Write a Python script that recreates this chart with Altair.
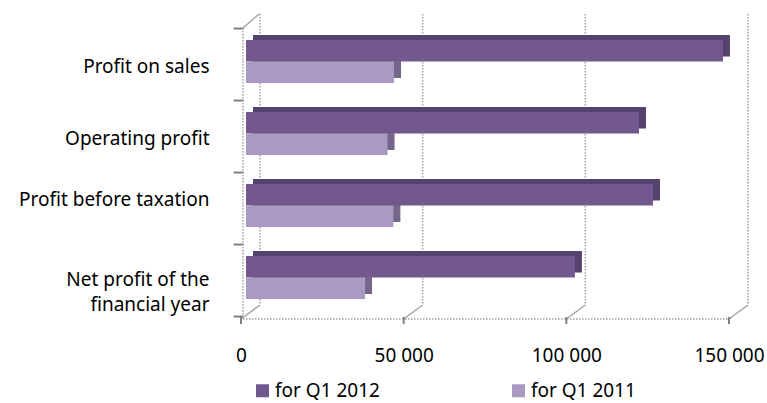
import altair as alt
import pandas as pd

categories = ["Profit on sales", "Operating profit", "Profit before taxation",
              "Net profit of the financial year"]
series = ["for Q1 2012", "for Q1 2011"]
values_2012 = [146600, 120800, 125100, 101100]
values_2011 = [45500, 43500, 45300, 36600]
x_ticks = [0, 50000, 100000, 150000]
front_colors = ["#72588f", "#a89ac0"]
depth_colors = ["#55436f", "#75678b"]

rows = []
for c, a, b in zip(categories, values_2012, values_2011):
    rows.append({"category": c, "series": series[0], "value": a})
    rows.append({"category": c, "series": series[1], "value": b})
df = pd.DataFrame(rows)
ticks_df = pd.DataFrame({"tick": x_ticks})

FONT = "Noto Sans"
GRID = "#a3a3a3"
x_scale = alt.Scale(domain=[0, 150000], nice=False, zero=True)
y_scale = alt.Scale(domain=categories, paddingInner=0, paddingOuter=0.118, align=0.82)
yoff_scale = alt.Scale(domain=series, paddingInner=0, paddingOuter=0.674, align=0.414)
yoff_depth_scale = alt.Scale(domain=series, paddingInner=0, paddingOuter=0.674, align=0.24)

label_expr = ("datum.label == 'Net profit of the financial year' ? ['Net profit of the', 'financial year'] : "
              "datum.label")
label_offset = {
    "condition": [
        {"test": "datum.value == 'Profit before taxation'", "value": -8},
        {"test": "datum.value == 'Net profit of the financial year'", "value": 0},
    ],
    "value": 3,
}

x_axis = alt.Axis(title=None, values=x_ticks, domain=False, ticks=False, grid=False,
                  labelOffset=-5, labelPadding=27, labelFont=FONT, labelFontSize=19,
                  labelColor="#000000", labelFlush=False,
                  labelExpr="datum.value == 0 ? '0' : format(datum.value / 1000, 'd') + ' 000'")
y_axis = alt.Axis(title=None, domain=False, ticks=True, tickBand="extent", tickSize=10,
                  tickColor="#808080", tickWidth=2, offset=3, labelPadding=24,
                  labelFont=FONT, labelFontSize=19, labelColor="#000000",
                  labelExpr=label_expr, labelLineHeight=25, labelOffset=label_offset,
                  labelLimit=400)

xt = alt.X("tick:Q", scale=x_scale, axis=x_axis)

back_grid = alt.Chart(ticks_df).mark_rule(
    color=GRID, strokeWidth=1.5, strokeDash=[1.5, 1.5], xOffset=14
).encode(x=xt, y=alt.value(0), y2=alt.value(291))

floor_diag = alt.Chart(ticks_df).mark_rule(
    color=GRID, strokeWidth=1.5, xOffset=14, x2Offset=-5
).encode(x=xt, x2=alt.X2("tick:Q"), y=alt.value(291), y2=alt.value(305))

floor = alt.Chart(ticks_df).transform_aggregate(
    lo="min(tick)", hi="max(tick)"
).mark_rule(color=GRID, strokeWidth=1.5, strokeDash=[1.5, 1.5], xOffset=-3, x2Offset=-5).encode(
    x=alt.X("lo:Q", scale=x_scale, axis=x_axis), x2=alt.X2("hi:Q"), y=alt.value(305)
)

floor_ticks = alt.Chart(ticks_df).mark_rule(
    color="#808080", strokeWidth=2, xOffset=-5
).encode(x=xt, y=alt.value(303), y2=alt.value(310))

left_wall = alt.Chart(ticks_df).transform_filter("datum.tick == 0").mark_rule(
    color=GRID, strokeWidth=1.5, strokeDash=[1.5, 1.5], xOffset=-3
).encode(x=xt, y=alt.value(14), y2=alt.value(305))

left_diag = alt.Chart(ticks_df).transform_filter("datum.tick == 0").mark_rule(
    color=GRID, strokeWidth=1.5, xOffset=-3, x2Offset=13
).encode(x=xt, x2=alt.X2("tick:Q"), y=alt.value(14), y2=alt.value(0))

depth = alt.Chart(df).mark_bar(xOffset=7, x2Offset=7).encode(
    x=alt.X("value:Q", scale=x_scale, axis=x_axis),
    y=alt.Y("category:N", scale=y_scale, sort=categories, axis=y_axis),
    yOffset=alt.YOffset("series:N", scale=yoff_depth_scale, sort=series),
    color=alt.Color("series:N", scale=alt.Scale(domain=series, range=depth_colors), legend=None),
)

front = alt.Chart(df).mark_bar().encode(
    x=alt.X("value:Q", scale=x_scale, axis=x_axis),
    y=alt.Y("category:N", scale=y_scale, sort=categories, axis=y_axis),
    yOffset=alt.YOffset("series:N", scale=yoff_scale, sort=series),
    color=alt.Color("series:N", scale=alt.Scale(domain=series, range=front_colors),
                    legend=alt.Legend(title=None, orient="none", legendX=7, legendY=367,
                                      direction="horizontal", symbolType="square",
                                      symbolSize=169, symbolStrokeWidth=0,
                                      labelFont=FONT, labelFontSize=19, labelColor="#000000",
                                      labelOffset=3, columnPadding=129, padding=0)),
)

chart = alt.layer(
    back_grid, floor_diag, floor, floor_ticks, left_wall, left_diag, depth, front
).resolve_scale(color="independent", yOffset="independent").properties(
    width=488, height=305,
    padding={"left": 246, "top": 14, "right": 33, "bottom": 84},
    autosize=alt.AutoSizeParams(type="none"),
    background="white",
).configure_view(stroke=None)

chart.save("out.html", embed_options={"renderer": "svg", "actions": False})
